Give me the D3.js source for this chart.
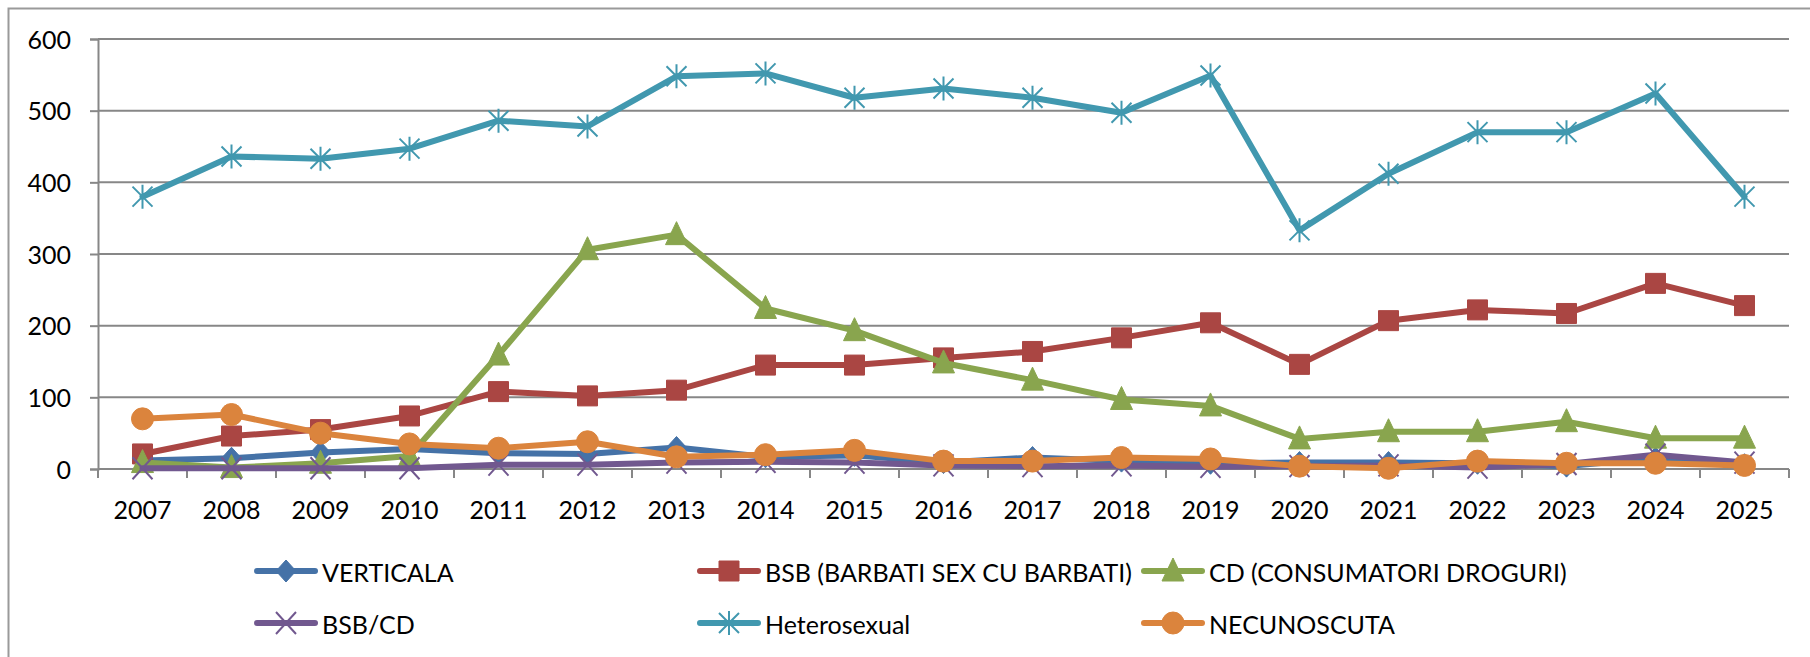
<!DOCTYPE html>
<html>
<head>
<meta charset="utf-8">
<script src="https://cdn.jsdelivr.net/npm/d3@7"></script>
<style>
  body { margin: 0; background: #fff; }
  svg { display: block; font-family: Lato, "Liberation Sans", sans-serif; }
</style>
</head>
<body>
<svg width="1810" height="657"></svg>
<script>
// values
const years = ["2007","2008","2009","2010","2011","2012","2013","2014","2015","2016",
  "2017","2018","2019","2020","2021","2022","2023","2024","2025"];
const verticala = [12, 15, 23, 28, 22, 21, 30, 17, 19, 9, 16, 11, 8, 9, 9, 8, 4, 15, 6];
const bsb = [21, 46, 55, 74, 108, 102, 110, 145, 145, 155, 164, 183, 204, 146, 207, 222, 217, 259, 228];
const cd = [9, 2, 8, 18, 159, 306, 327, 224, 193, 148, 124, 97, 88, 42, 52, 52, 66, 43, 43];
const bsbCd = [1, 1, 1, 1, 6, 6, 9, 10, 9, 5, 4, 5, 3, 4, 5, 2, 7, 20, 9];
const heterosexual = [380, 436, 433, 447, 486, 478, 548, 552, 518, 531, 518, 497, 549, 333, 412, 470, 470, 524, 380];
const necunoscuta = [70, 76, 50, 35, 29, 38, 17, 20, 26, 11, 11, 16, 14, 4, 1, 11, 8, 8, 5];
const yTicks = [0, 100, 200, 300, 400, 500, 600];

const series = [
  { name: "VERTICALA", values: verticala, color: "#4572A7", marker: "diamond" },
  { name: "BSB (BARBATI SEX CU BARBATI)", values: bsb, color: "#AA4643", marker: "square" },
  { name: "CD (CONSUMATORI DROGURI)", values: cd, color: "#89A54E", marker: "triangle" },
  { name: "BSB/CD", values: bsbCd, color: "#71588F", marker: "x" },
  { name: "Heterosexual", values: heterosexual, color: "#4198AF", marker: "star" },
  { name: "NECUNOSCUTA", values: necunoscuta, color: "#DB843D", marker: "circle" }
];

const svg = d3.select("svg");
const grid = "#878787";
const plotLeft = 98, plotRight = 1789, plotTop = 39, plotBottom = 469;

const x = d3.scaleBand().domain(years).range([plotLeft, plotRight]);
const y = d3.scaleLinear().domain([0, 600]).range([plotBottom, plotTop]);
const cx = (d) => x(d) + x.bandwidth() / 2;

// outer frame (only left/top edges fall inside the picture)
svg.append("rect")
  .attr("x", 8.5).attr("y", 8.5)
  .attr("width", 1900).attr("height", 800)
  .attr("fill", "none").attr("stroke", "#9a9a9a").attr("stroke-width", 2);

// gridlines
svg.append("g")
  .selectAll("line")
  .data(yTicks.filter((t) => t > 0))
  .enter()
  .append("line")
  .attr("x1", plotLeft).attr("x2", plotRight)
  .attr("y1", (d) => y(d)).attr("y2", (d) => y(d))
  .attr("stroke", grid).attr("stroke-width", 2);

// y axis
const yAxis = svg.append("g")
  .attr("transform", `translate(${plotLeft},0)`)
  .call(d3.axisLeft(y).tickValues(yTicks).tickSize(8).tickPadding(19));
yAxis.select(".domain").attr("stroke", grid).attr("stroke-width", 2);
yAxis.selectAll(".tick line").attr("stroke", grid).attr("stroke-width", 2);
yAxis.selectAll("text")
  .attr("font-size", 25).attr("fill", "#000")
  .attr("dy", "0.36em").style("font-family", "Lato");

// x axis: labels at category centres, ticks between categories
const xAxis = svg.append("g")
  .attr("transform", `translate(0,${plotBottom})`)
  .call(d3.axisBottom(x).tickSize(0).tickPadding(32));
xAxis.select(".domain").remove();
xAxis.selectAll("text")
  .attr("font-size", 25).attr("fill", "#000").style("font-family", "Lato");

svg.append("line")
  .attr("x1", plotLeft).attr("x2", plotRight)
  .attr("y1", plotBottom).attr("y2", plotBottom)
  .attr("stroke", grid).attr("stroke-width", 2);

svg.append("g")
  .selectAll("line")
  .data(years.map((d) => x(d)).concat([plotRight]))
  .enter()
  .append("line")
  .attr("x1", (d) => d).attr("x2", (d) => d)
  .attr("y1", plotBottom).attr("y2", plotBottom + 9)
  .attr("stroke", grid).attr("stroke-width", 2);

// marker shapes, Excel style
function markerPath(type) {
  const p = d3.path();
  if (type === "diamond") {
    p.moveTo(0, -11); p.lineTo(10, 0); p.lineTo(0, 11); p.lineTo(-10, 0); p.closePath();
  } else if (type === "square") {
    p.rect(-10, -10, 20, 20);
  } else if (type === "triangle") {
    p.moveTo(0, -13); p.lineTo(11, 10); p.lineTo(-11, 10); p.closePath();
  } else if (type === "circle") {
    p.arc(0, 0, 11, 0, 2 * Math.PI);
  } else if (type === "x") {
    p.moveTo(-10, -11); p.lineTo(10, 11); p.moveTo(10, -11); p.lineTo(-10, 11);
  } else if (type === "star") {
    p.moveTo(-10, -10); p.lineTo(10, 10); p.moveTo(10, -10); p.lineTo(-10, 10);
    p.moveTo(0, -12); p.lineTo(0, 12);
  }
  return p.toString();
}
const isOpen = (m) => m === "x" || m === "star";

const line = d3.line()
  .x((d) => cx(d.year))
  .y((d) => y(d.value));

series.forEach((s) => {
  const pts = years.map((yr, i) => ({ year: yr, value: s.values[i] }));
  const g = svg.append("g");
  g.append("path")
    .datum(pts)
    .attr("d", line)
    .attr("fill", "none")
    .attr("stroke", s.color)
    .attr("stroke-width", 6)
    .attr("stroke-linejoin", "round")
    .attr("stroke-linecap", "round");
  g.selectAll("path.m")
    .data(pts)
    .enter()
    .append("path")
    .attr("class", "m")
    .attr("transform", (d) => `translate(${cx(d.year)},${y(d.value)})`)
    .attr("d", markerPath(s.marker))
    .attr("fill", isOpen(s.marker) ? "none" : s.color)
    .attr("stroke", s.color)
    .attr("stroke-width", isOpen(s.marker) ? 2 : 1);
});

// legend: two rows of three
const legendCols = [257, 700, 1144];
const legendRows = [571, 623];
const legend = svg.append("g")
  .selectAll("g")
  .data(series)
  .enter()
  .append("g")
  .attr("transform", (d, i) => `translate(${legendCols[i % 3]},${legendRows[Math.floor(i / 3)]})`);

legend.append("line")
  .attr("x1", 0).attr("x2", 58)
  .attr("stroke", (d) => d.color)
  .attr("stroke-width", 6)
  .attr("stroke-linecap", "round");
legend.append("path")
  .attr("transform", "translate(29,0)")
  .attr("d", (d) => markerPath(d.marker))
  .attr("fill", (d) => (isOpen(d.marker) ? "none" : d.color))
  .attr("stroke", (d) => d.color)
  .attr("stroke-width", (d) => (isOpen(d.marker) ? 2 : 1));
legend.append("text")
  .attr("x", 65)
  .attr("y", 11)
  .attr("font-size", 25)
  .attr("fill", "#000")
  .text((d) => d.name);
</script>
</body>
</html>
